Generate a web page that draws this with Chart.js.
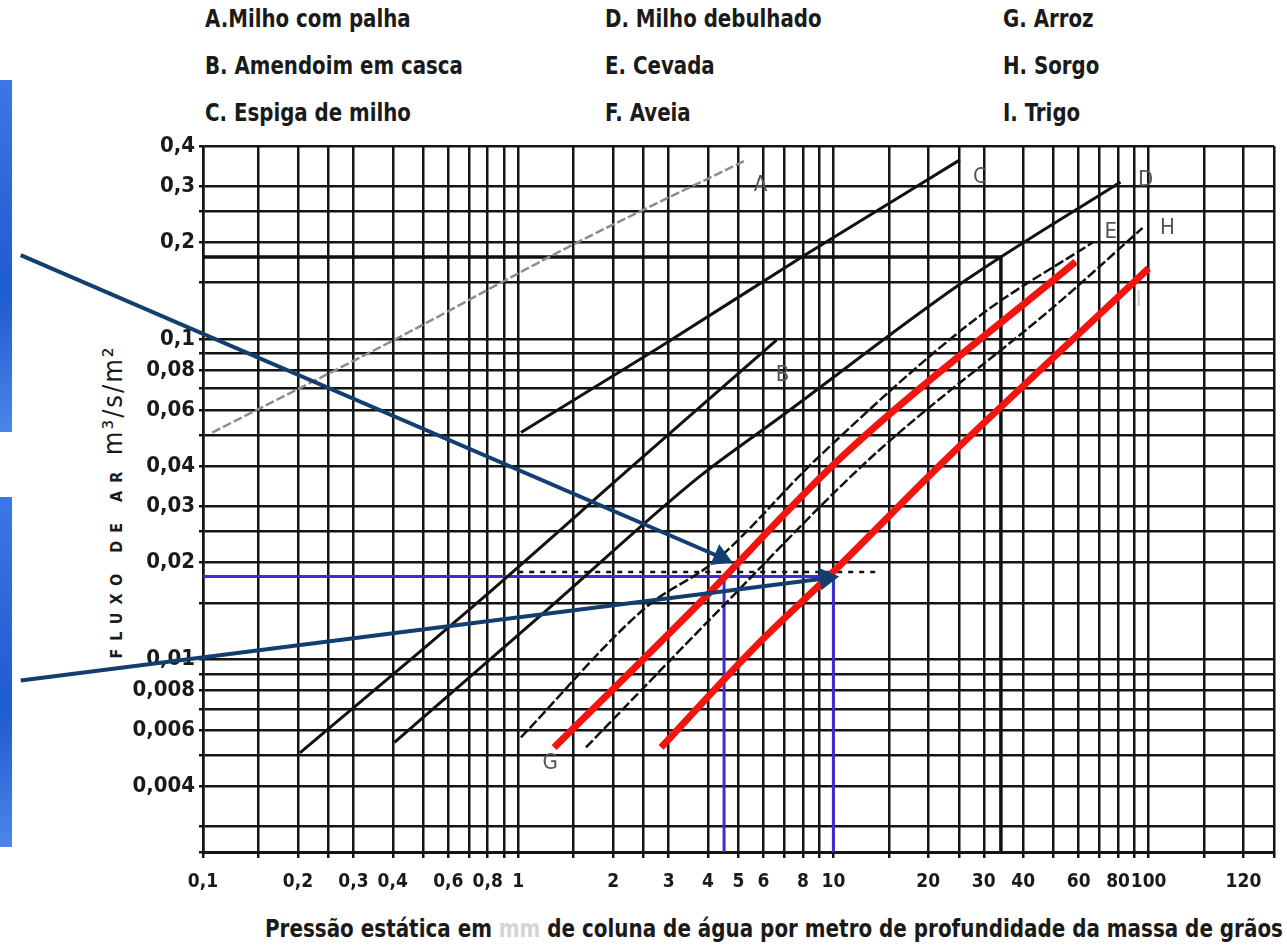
<!DOCTYPE html>
<html lang="pt">
<head>
<meta charset="utf-8">
<title>Fluxo de ar x pressão estática</title>
<script src="https://cdn.jsdelivr.net/npm/chart.js@4.4.1/dist/chart.umd.min.js"></script>
<style>
  html, body { margin: 0; padding: 0; background: #fff; }
  body {
    width: 1287px; height: 950px; position: relative; overflow: hidden;
    font-family: 'DejaVu Sans', 'Liberation Sans Narrow', sans-serif;
    font-stretch: condensed; font-weight: bold; color: #1a1a1a;
  }
  #grafico { position: absolute; left: 0; top: 0; }
  #legenda {
    position: absolute; left: 205px; top: 6px;
    display: grid; grid-auto-flow: column;
    grid-template-columns: 400px 398px auto; grid-template-rows: repeat(3, 47px);
    font-size: 25px; line-height: 26px; white-space: nowrap;
  }
  #legenda div { transform: scaleX(0.88); transform-origin: left center; }
  #tituloX {
    position: absolute; left: 265px; top: 915px; font-size: 25px; line-height: 28px; white-space: nowrap;
    transform-origin: left center;
  }
  #tituloX .apagado { color: #d4d4d4; }
  #tituloY {
    position: absolute; left: -65px; top: 486px; width: 360px; text-align: center;
    transform: rotate(-90deg); font-size: 27px; line-height: 28px; white-space: nowrap;
  }
  #tituloY .fluxo { font-size: 16px; letter-spacing: 8px; }
  #tituloY .unidade { font-weight: normal; letter-spacing: 2px; }
  .faixa { position: absolute; left: 0; width: 12px; background: linear-gradient(#3a78e6, #1d5bd0 60%, #4a86ea); }
</style>
</head>
<body>
<div class="faixa" style="top:80px;height:352px"></div>
<div class="faixa" style="top:497px;height:350px"></div>
<div id="legenda"></div>
<div id="tituloY"><span class="fluxo">FLUXO DE AR</span>&nbsp;<span class="unidade">m³/s/m²</span></div>
<div id="tituloX">Pressão estática em <span class="apagado">mm</span> de coluna de água por metro de profundidade da massa de grãos</div>
<canvas id="grafico" width="1287" height="950"></canvas>
<script>
// Nomes das curvas (legenda)
const nomes = ['A.Milho com palha', 'B. Amendoim em casca', 'C. Espiga de milho',
               'D. Milho debulhado', 'E. Cevada', 'F. Aveia',
               'G. Arroz', 'H. Sorgo', 'I. Trigo'];

// Grade e rótulos do eixo X (pressão estática)
const gradeX = [0.1, 0.15, 0.2, 0.25, 0.3, 0.4, 0.5, 0.6, 0.7, 0.8, 0.9,
                1, 1.5, 2, 2.5, 3, 4, 5, 6, 7, 8, 9,
                10, 15, 20, 25, 30, 40, 50, 60, 70, 80, 90,
                100, 150, 200, 250];
const valoresRotuloX = [0.1, 0.2, 0.3, 0.4, 0.6, 0.8, 1, 2, 3, 4, 5, 6, 8, 10, 20, 30, 40, 60, 80, 100, 200];
const textosRotuloX = ['0,1', '0,2', '0,3', '0,4', '0,6', '0,8', '1', '2', '3', '4', '5', '6', '8', '10',
                       '20', '30', '40', '60', '80', '100', '120'];

// Grade e rótulos do eixo Y (fluxo de ar)
const gradeY = [0.0025, 0.003, 0.004, 0.005, 0.006, 0.007, 0.008, 0.009, 0.01, 0.015,
                0.02, 0.025, 0.03, 0.04, 0.05, 0.06, 0.07, 0.08, 0.09, 0.1,
                0.15, 0.2, 0.25, 0.3, 0.4];
const valoresRotuloY = [0.004, 0.006, 0.008, 0.01, 0.02, 0.03, 0.04, 0.06, 0.08, 0.1, 0.2, 0.3, 0.4];
const textosRotuloY = ['0,004', '0,006', '0,008', '0,01', '0,02', '0,03', '0,04', '0,06', '0,08',
                       '0,1', '0,2', '0,3', '0,4'];

// Curvas
const curvaA_x = [0.107, 0.41, 1.48, 5.3];
const curvaA_y = [0.051, 0.10, 0.196, 0.362];
const curvaB_x = [0.203, 0.736, 2.42, 6.6];
const curvaB_y = [0.0051, 0.0149, 0.0418, 0.099];
const curvaC_x = [1.02, 2.8, 8.15, 25.2];
const curvaC_y = [0.051, 0.094, 0.183, 0.362];
const curvaD_x = [0.405, 1.23, 3.74, 6.84, 26.2, 81.5];
const curvaD_y = [0.0055, 0.0142, 0.037, 0.0573, 0.152, 0.309];
const curvaE_x = [1.02, 2.54, 4.23, 8.96, 28.8, 66.5];
const curvaE_y = [0.0057, 0.0145, 0.0203, 0.0427, 0.117, 0.20];
const curvaG_x = [1.3, 3.74, 10.6, 58.7];
const curvaG_y = [0.0053, 0.0149, 0.0427, 0.174];
const curvaH_x = [1.64, 4.39, 13.2, 51.5, 95.7];
const curvaH_y = [0.0053, 0.0144, 0.0427, 0.129, 0.222];
const curvaI_x = [2.84, 5.79, 9.86, 22.6, 51.5, 100];
const curvaI_y = [0.0053, 0.0112, 0.0185, 0.0418, 0.090, 0.166];

// Linhas de leitura
const leitura018_x = [0.1, 34, 34];
const leitura018_y = [0.18, 0.18, 0.0025];
const leituraAzul_x = [0.1, 10, 10];
const leituraAzul_y = [0.0181, 0.0181, 0.0025];
const leituraAzul2_x = [4.5, 4.5];
const leituraAzul2_y = [0.0181, 0.0025];
const tracejado_x = [1, 14];
const tracejado_y = [0.0187, 0.0187];

// Setas
const seta1_x = [0.0264, 4.39];
const seta1_y = [0.1826, 0.0208];
const seta2_x = [0.0264, 9.5];
const seta2_y = [0.00858, 0.0179];

// legenda em texto
const legenda = document.getElementById('legenda');
nomes.forEach(n => {
  const d = document.createElement('div');
  d.textContent = n;
  legenda.appendChild(d);
});

// título do eixo X ocupa a mesma largura do original (fonte condensada)
const tituloX = document.getElementById('tituloX');
tituloX.style.transform = 'scaleX(' + (1018 / tituloX.scrollWidth) + ')';

const pontos = (xs, ys) => xs.map((x, i) => ({ x: x, y: ys[i] }));

function rotuloDe(valor, valores, textos) {
  const i = valores.findIndex(v => Math.abs(v - valor) < v * 1e-6);
  return i < 0 ? '' : textos[i];
}

// ponta de seta orientada pelo último segmento
function rotacaoSeta(ctx) {
  const d = ctx.dataset.data;
  const n = d.length - 1;
  if (ctx.dataIndex !== n) return 0;
  const sx = ctx.chart.scales.x, sy = ctx.chart.scales.y;
  const dx = sx.getPixelForValue(d[n].x) - sx.getPixelForValue(d[n - 1].x);
  const dy = sy.getPixelForValue(d[n].y) - sy.getPixelForValue(d[n - 1].y);
  return Math.atan2(dx, -dy) * 180 / Math.PI;
}

function linha(xs, ys, cor, largura, extra) {
  return Object.assign({
    data: pontos(xs, ys), showLine: true, borderColor: cor, backgroundColor: cor,
    borderWidth: largura, pointRadius: 0, pointHoverRadius: 0, tension: 0, clip: false
  }, extra || {});
}

// curvas suaves (passam pelos pontos lidos)
const curva = (xs, ys, cor, largura, extra) =>
  linha(xs, ys, cor, largura, Object.assign({ cubicInterpolationMode: 'monotone' }, extra || {}));

const seta = (xs, ys) => linha(xs, ys, '#123f70', 4, {
  pointRadius: c => c.dataIndex === c.dataset.data.length - 1 ? 9 : 0,
  pointStyle: 'triangle', pointRotation: rotacaoSeta
});

// letras no final de cada curva
const rotulosCurvas = {
  id: 'rotulosCurvas',
  afterDatasetsDraw(chart, args, opts) {
    const { ctx } = chart;
    const sx = chart.scales.x, sy = chart.scales.y;
    ctx.save();
    ctx.font = opts.fonte;
    ctx.textAlign = 'center';
    ctx.textBaseline = 'middle';
    opts.itens.forEach(it => {
      const d = chart.data.datasets[it.ds].data;
      const p = it.inicio ? d[0] : d[d.length - 1];
      ctx.fillStyle = it.cor || opts.cor;
      ctx.fillText(it.letra, sx.getPixelForValue(p.x) + it.dx, sy.getPixelForValue(p.y) + it.dy);
    });
    ctx.restore();
  }
};

const corGrade = '#141414';
const fonteEixo = "'DejaVu Sans', 'Liberation Sans Narrow', sans-serif";

new Chart(document.getElementById('grafico'), {
  type: 'scatter',
  data: {
    datasets: [
      seta(seta1_x, seta1_y),                                   // 0
      seta(seta2_x, seta2_y),                                   // 1
      curva(curvaG_x, curvaG_y, '#f2140f', 7),                  // 2  G
      curva(curvaI_x, curvaI_y, '#f2140f', 7),                  // 3  I
      curva(curvaA_x, curvaA_y, '#8c8c8c', 2.5, { borderDash: [9, 3] }), // 4 A
      curva(curvaB_x, curvaB_y, '#111', 3),                     // 5  B
      curva(curvaC_x, curvaC_y, '#111', 3),                     // 6  C
      curva(curvaD_x, curvaD_y, '#111', 3),                     // 7  D
      curva(curvaE_x, curvaE_y, '#111', 2.5, { borderDash: [10, 3] }), // 8 E
      curva(curvaH_x, curvaH_y, '#111', 2.5, { borderDash: [10, 3] }), // 9 H
      linha(leituraAzul_x, leituraAzul_y, '#3d2bd8', 3),        // 10
      linha(leituraAzul2_x, leituraAzul2_y, '#3d2bd8', 3),      // 11
      linha(tracejado_x, tracejado_y, '#111', 2.5, { borderDash: [5, 6] }), // 12
      linha(leitura018_x, leitura018_y, '#111', 3.5)            // 13
    ]
  },
  options: {
    responsive: false,
    animation: false,
    events: [],
    layout: { padding: { top: 146, right: 10, left: 0, bottom: 0 } },
    plugins: {
      legend: { display: false },
      tooltip: { enabled: false },
      rotulosCurvas: {
        fonte: "normal condensed 22px " + fonteEixo,
        cor: '#555',
        itens: [
          { ds: 4, letra: 'A', dx: 14, dy: 25 },
          { ds: 5, letra: 'B', dx: 6, dy: 35 },
          { ds: 6, letra: 'C', dx: 20, dy: 17 },
          { ds: 7, letra: 'D', dx: 25, dy: -2 },
          { ds: 8, letra: 'E', dx: 18, dy: -10 },
          { ds: 9, letra: 'H', dx: 25, dy: 0 },
          { ds: 2, letra: 'G', dx: -4, dy: 16, inicio: true },
          { ds: 3, letra: 'I', dx: -10, dy: 32, cor: '#c8c8c8' }
        ]
      }
    },
    scales: {
      x: {
        type: 'logarithmic', min: 0.1, max: 250,
        afterBuildTicks: ax => { ax.ticks = gradeX.map(v => ({ value: v })); },
        afterFit: ax => { ax.height = 98; },
        grid: { color: corGrade, lineWidth: 2.5, tickLength: 6, tickColor: corGrade },
        border: { display: true, color: corGrade, width: 3 },
        ticks: {
          autoSkip: false, maxRotation: 0, minRotation: 0, padding: 13, color: '#1a1a1a',
          font: { family: fonteEixo, size: 19, weight: 'bold condensed' },
          callback: v => rotuloDe(v, valoresRotuloX, textosRotuloX)
        }
      },
      y: {
        type: 'logarithmic', min: 0.0025, max: 0.4,
        afterBuildTicks: ax => { ax.ticks = gradeY.map(v => ({ value: v })); },
        afterFit: ax => { ax.width = 203; },
        grid: { color: corGrade, lineWidth: 2.5, tickLength: 4, tickColor: corGrade },
        border: { display: true, color: corGrade, width: 2.5 },
        ticks: {
          autoSkip: false, padding: 4, color: '#1a1a1a',
          font: { family: fonteEixo, size: 22, weight: 'bold condensed' },
          callback: v => rotuloDe(v, valoresRotuloY, textosRotuloY)
        }
      }
    }
  },
  plugins: [rotulosCurvas]
});
</script>
</body>
</html>
